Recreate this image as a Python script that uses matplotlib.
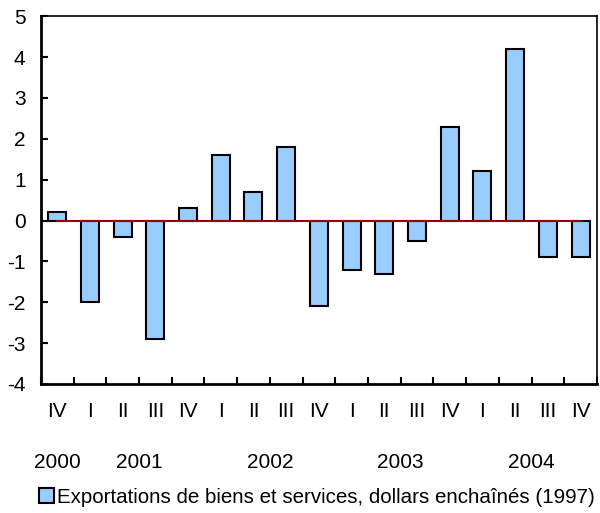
import matplotlib.pyplot as plt
from matplotlib.patches import Patch
import numpy as np

plt.rcParams['font.family'] = ['Liberation Sans', 'DejaVu Sans']
plt.rcParams['axes.unicode_minus'] = False

quarters = ['IV', 'I', 'II', 'III', 'IV', 'I', 'II', 'III', 'IV',
            'I', 'II', 'III', 'IV', 'I', 'II', 'III', 'IV']
values = [0.2, -2.0, -0.4, -2.9, 0.3, 1.6, 0.7, 1.8, -2.1,
          -1.2, -1.3, -0.5, 2.3, 1.2, 4.2, -0.9, -0.9]
years = ['2000', '2001', '2002', '2003', '2004']
year_pos = [0, 2.5, 6.5, 10.5, 14.5]
label = 'Exportations de biens et services, dollars enchaînés (1997)'

fig = plt.figure(figsize=(6, 5.13), dpi=100)
ax = fig.add_axes([0.068, 0.2515, 0.927, 0.717])

x = np.arange(len(values))
ax.bar(x, values, width=0.55, color='#99ccff', edgecolor='black', linewidth=1.5, zorder=2)
ax.plot([x[0], x[-1]], [0, 0], color='#990000', linewidth=1.5, zorder=3)

ax.set_xlim(-0.5, len(values) - 0.5)
ax.set_ylim(-4, 5)
ax.set_yticks(range(-4, 6))
ax.tick_params(axis='y', direction='in', length=5, width=1.5, labelsize=15, pad=11)
ax.set_xticks(np.arange(len(values) + 1) - 0.5)
ax.set_xticklabels([])
ax.tick_params(axis='x', direction='in', length=5, width=1.5)

for i, q in enumerate(quarters):
    ax.text(i, -4.68, q, ha='center', va='center', fontsize=15,
            family=['Liberation Sans Narrow', 'Liberation Sans'])
for p, yr in zip(year_pos, years):
    ax.text(p, -5.91, yr, ha='center', va='center', fontsize=15)

for s in ['left', 'bottom']:
    ax.spines[s].set_linewidth(2)
for s in ['top', 'right']:
    ax.spines[s].set_linewidth(1.2)

handle = Patch(facecolor='#99ccff', edgecolor='black', linewidth=1.5)
fig.legend([handle], [label], loc='center', bbox_to_anchor=(0.528, 0.031),
           frameon=False, fontsize=14.8, handlelength=0.7, handleheight=0.7,
           handletextpad=0.15, borderpad=0, borderaxespad=0)

fig.savefig('out.png', dpi=100)
